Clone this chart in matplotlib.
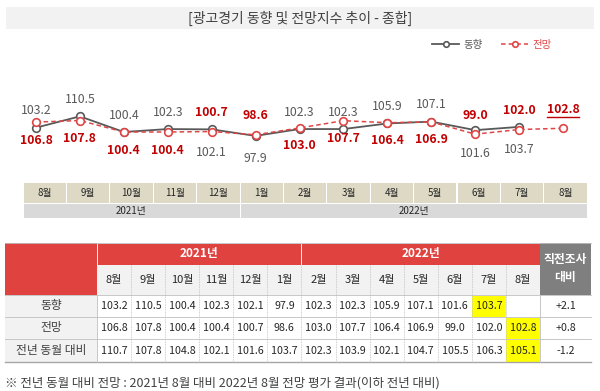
import numpy as np
import matplotlib
matplotlib.use('Agg')
import matplotlib.pyplot as plt
from matplotlib.patches import Rectangle
from matplotlib.lines import Line2D

plt.rcParams['font.family'] = ['Noto Sans CJK KR', 'DejaVu Sans']

# Data
title = '[광고경기 동향 및 전망지수 추이 - 종합]'
months = ['8월', '9월', '10월', '11월', '12월', '1월', '2월', '3월', '4월', '5월', '6월', '7월', '8월']
years = ['2021년', '2022년']
chart_year_span = [5, 8]
table_year_span = [6, 7]
trend = [103.2, 110.5, 100.4, 102.3, 102.1, 97.9, 102.3, 102.3, 105.9, 107.1, 101.6, 103.7]
outlook = [106.8, 107.8, 100.4, 100.4, 100.7, 98.6, 103.0, 107.7, 106.4, 106.9, 99.0, 102.0, 102.8]
yoy = [110.7, 107.8, 104.8, 102.1, 101.6, 103.7, 102.3, 103.9, 102.1, 104.7, 105.5, 106.3, 105.1]
change = ['+2.1', '+0.8', '-1.2']
row_names = ['동향', '전망', '전년 동월 대비']
footnote = '※ 전년 동월 대비 전망 : 2021년 8월 대비 2022년 8월 전망 평가 결과(이하 전년 대비)'

GRAY = '#595959'
RED_LINE = '#e04545'
RED_TXT = '#c00000'
TXT = '#404040'

W, H = 600, 391
fig = plt.figure(figsize=(W / 100, H / 100), dpi=100)
fig.patch.set_facecolor('white')

# background axes in pixel coordinates
bg = fig.add_axes([0, 0, 1, 1])
bg.set_xlim(0, W)
bg.set_ylim(H, 0)
bg.axis('off')

# title band
bg.add_patch(Rectangle((6, 7), 588, 22, facecolor='#f2f2f2', edgecolor='none'))
bg.text(300, 18, title, ha='center', va='center', fontsize=10, color=TXT)

# month / year boxes under the chart
cx0, cw = 23, 43.4
for i, m in enumerate(months):
    bg.add_patch(Rectangle((cx0 + i * cw + 0.5, 183), cw - 1, 20, facecolor='#ddd9c4', edgecolor='none'))
    bg.text(cx0 + (i + 0.5) * cw, 193, m, ha='center', va='center', fontsize=7, color='#262626')
start = 0
for y, n in zip(years, chart_year_span):
    bg.add_patch(Rectangle((cx0 + start * cw + 0.5, 204), n * cw - 1, 14, facecolor='#d9d9d9', edgecolor='none'))
    bg.text(cx0 + (start + n / 2) * cw, 211, y, ha='center', va='center', fontsize=7, color='#262626')
    start += n

# line chart
ax = fig.add_axes([14 / W, 1 - 175 / H, 571 / W, 115 / H])
ax.patch.set_alpha(0)
ax.set_xlim(-0.5, 12.5)
ax.set_ylim(72.66, 146.85)
ax.axis('off')

x_t = np.arange(len(trend))
x_o = np.arange(len(outlook))
ax.plot(x_t, trend, '-o', color=GRAY, lw=1.3, ms=5.5, mfc='white', mec=GRAY, mew=1.2, label='동향', zorder=3)
ax.plot(x_o, outlook, '--o', color=RED_LINE, lw=1.1, ms=5.5, mfc='white', mec=RED_LINE, mew=1.2,
        dashes=(3, 2), label='전망', zorder=4)

trend_up = [1, 1, 1, 1, 0, 0, 1, 1, 1, 1, 0, 0]
outlook_up = [0, 0, 0, 0, 1, 1, 0, 0, 0, 0, 1, 1, 1]
for i, v in enumerate(trend):
    off = 17 if trend_up[i] else -23
    ax.annotate(f'{v:.1f}', (i, v), xytext=(0, off), textcoords='offset pixels',
                ha='center', va='center', fontsize=8.8, color=GRAY, annotation_clip=False)
last_lbl = None
for i, v in enumerate(outlook):
    off = 19 if outlook_up[i] else -18
    t = ax.annotate(f'{v:.1f}', (i, v), xytext=(0, off), textcoords='offset pixels',
                    ha='center', va='center', fontsize=8.8, color=RED_TXT, fontweight='bold',
                    annotation_clip=False)
    last_lbl = t

leg = fig.legend(loc='center', bbox_to_anchor=(492 / W, 1 - 45 / H), ncol=2, frameon=False,
                 fontsize=7.5, handlelength=2.6, columnspacing=1.8, handletextpad=0.4,
                 labelcolor=[GRAY, RED_LINE])
for h in leg.legend_handles:
    h.set_markersize(4)

# table
tx0, tx1, tx2 = 5, 97, 540
tw = (tx2 - tx1) / len(months)
rows_y = [243, 265, 295, 317, 339, 362]
RED_HDR = '#e0423f'
bg.add_patch(Rectangle((tx0, rows_y[0]), tx1 - tx0, rows_y[2] - rows_y[0], facecolor=RED_HDR, edgecolor='none'))
start = 0
for y, n in zip(years, table_year_span):
    bg.add_patch(Rectangle((tx1 + start * tw, rows_y[0]), n * tw, rows_y[1] - rows_y[0],
                           facecolor=RED_HDR, edgecolor='white', lw=0.6))
    bg.text(tx1 + (start + n / 2) * tw, (rows_y[0] + rows_y[1]) / 2, y, ha='center', va='center',
            fontsize=8.5, color='white', fontweight='bold')
    start += n
bg.add_patch(Rectangle((tx2, rows_y[0]), 591 - tx2, rows_y[2] - rows_y[0], facecolor='#7f7f7f', edgecolor='none'))
bg.text((tx2 + 591) / 2, (rows_y[0] + rows_y[2]) / 2, '직전조사\n대비', ha='center', va='center',
        fontsize=8.5, color='white', fontweight='bold', linespacing=1.5)
bg.add_patch(Rectangle((tx1, rows_y[1]), tx2 - tx1, rows_y[2] - rows_y[1], facecolor='#f2f2f2', edgecolor='none'))
for i, m in enumerate(months):
    bg.text(tx1 + (i + 0.5) * tw, (rows_y[1] + rows_y[2]) / 2, m, ha='center', va='center',
            fontsize=8, color='#262626')

table_rows = [trend + [None], outlook, yoy]
for r, (name, vals) in enumerate(zip(row_names, table_rows)):
    y0, y1 = rows_y[r + 2], rows_y[r + 3]
    yc = (y0 + y1) / 2
    bg.add_patch(Rectangle((tx0, y0), tx1 - tx0, y1 - y0, facecolor='#f2f2f2', edgecolor='none'))
    bg.text((tx0 + tx1) / 2, yc, name, ha='center', va='center', fontsize=8.5, color=TXT)
    last = max(i for i, v in enumerate(vals) if v is not None)
    for i, v in enumerate(vals):
        if v is None:
            continue
        if i == last:
            bg.add_patch(Rectangle((tx1 + i * tw, y0 + 0.5), tw, y1 - y0 - 1, facecolor='#ffff00', edgecolor='none'))
        bg.text(tx1 + (i + 0.5) * tw, yc, f'{v:.1f}', ha='center', va='center', fontsize=7.7, color='#262626')
    bg.text((tx2 + 591) / 2, yc, change[r], ha='center', va='center', fontsize=7.7, color='#262626')

# table lines
for y in rows_y[2:5]:
    bg.plot([tx0, 591], [y, y], color='#bfbfbf', lw=0.6)
bg.plot([tx0, 591], [rows_y[-1], rows_y[-1]], color='#a6a6a6', lw=1.0)
bg.plot([tx0, 591], [rows_y[0], rows_y[0]], color='#bfbfbf', lw=0.6)
for i in range(1, len(months)):
    bg.plot([tx1 + i * tw] * 2, [rows_y[1], rows_y[-1]], color='#bfbfbf', lw=0.6, ls=(0, (1, 1)))
bg.plot([tx1, tx1], [rows_y[2], rows_y[-1]], color='#bfbfbf', lw=0.6)
bg.plot([tx2, tx2], [rows_y[2], rows_y[-1]], color='#bfbfbf', lw=0.6)

bg.text(5, 383, footnote, ha='left', va='center', fontsize=9, color=TXT)

# underline the latest outlook label
fig.canvas.draw()
bb = last_lbl.get_window_extent()
ux0, ux1 = bb.x0 / W, bb.x1 / W
uy = (bb.y0 - 1) / H
fig.add_artist(Line2D([ux0, ux1], [uy, uy], color=RED_TXT, lw=1.0, transform=fig.transFigure))

fig.savefig('out.png', dpi=100)
